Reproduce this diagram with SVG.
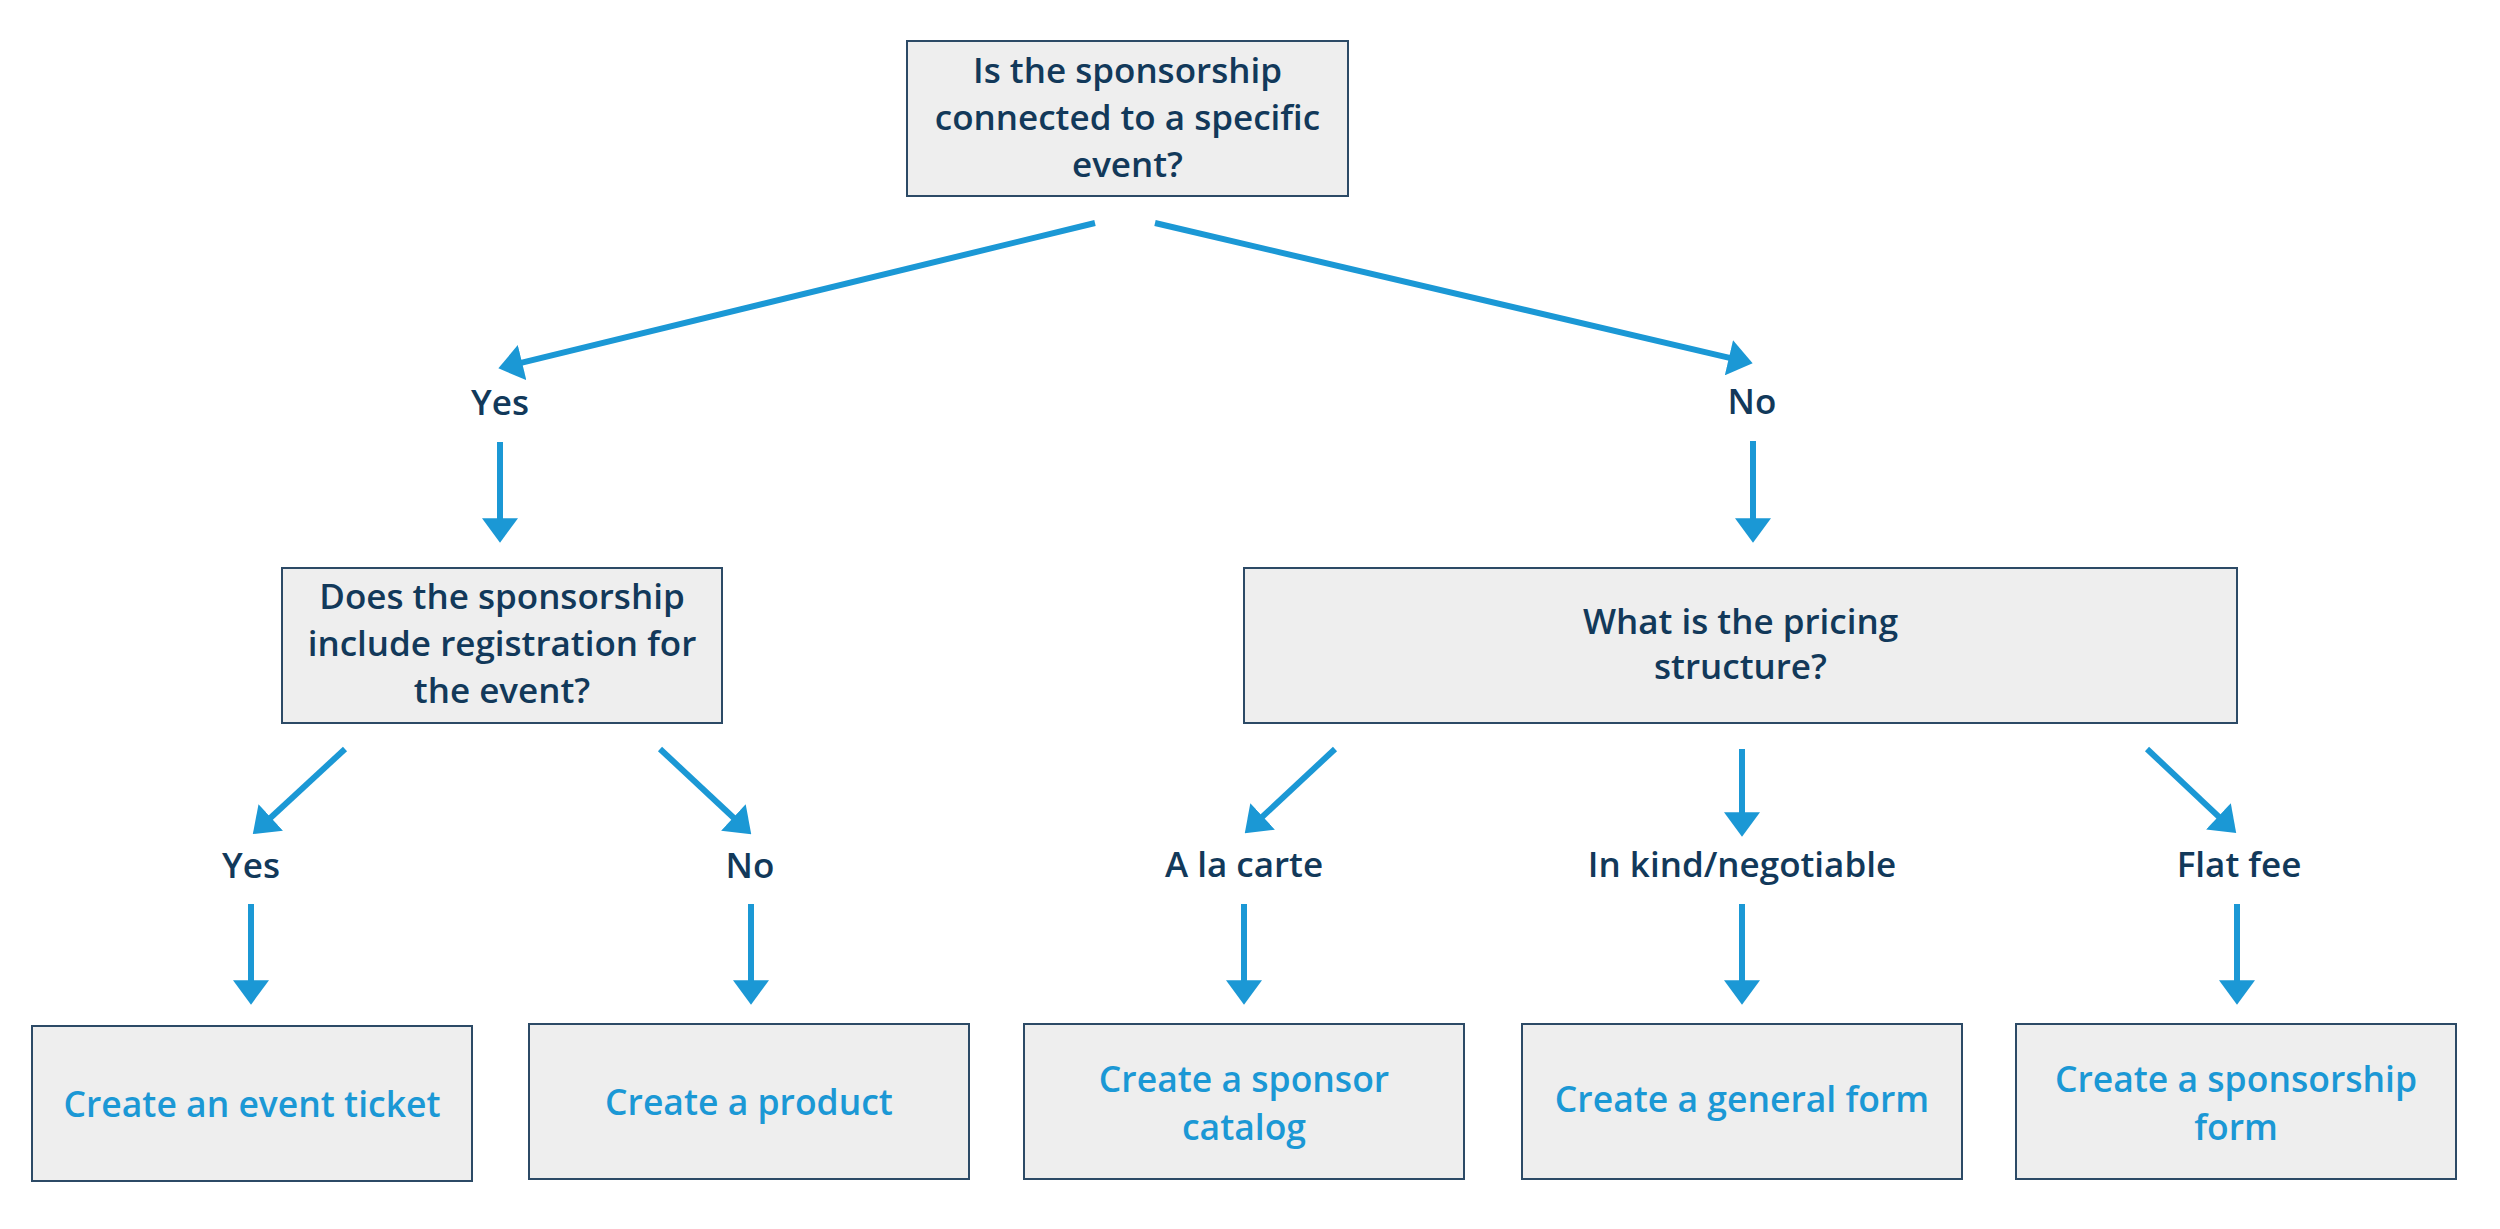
<svg xmlns="http://www.w3.org/2000/svg" width="2500" height="1229" viewBox="0 0 2500 1229">
<style>
.box{fill:#eeeeee;stroke:#2c4a66;stroke-width:2}
.q{font-family:"Open Sans","Liberation Sans",sans-serif;font-weight:600;font-size:35px;fill:#12395a;text-anchor:middle}
.a{font-family:"Open Sans","Liberation Sans",sans-serif;font-weight:600;font-size:35.5px;fill:#1b98d5;text-anchor:middle}
.c{stroke:#1b98d5;stroke-width:6;fill:none;marker-end:url(#ah)}
</style>
<defs>
<marker id="ah" markerUnits="userSpaceOnUse" markerWidth="25" markerHeight="36" viewBox="0 0 23 34" refX="12" refY="17" orient="auto">
<path d="M0,0 L23,17 L0,34 Z" fill="#1b98d5"/>
</marker>
</defs>
<rect width="2500" height="1229" fill="#ffffff"/>
<g id="connectors">
<line class="c" x1="1095" y1="223" x2="509.7" y2="365.6"/>
<line class="c" x1="1155" y1="223" x2="1741.3" y2="360.7"/>
<line class="c" x1="500" y1="442" x2="500" y2="531"/>
<line class="c" x1="1753" y1="441" x2="1753" y2="531"/>
<line class="c" x1="345" y1="749" x2="261.4" y2="826.2"/>
<line class="c" x1="660" y1="749" x2="742.7" y2="826.2"/>
<line class="c" x1="1335" y1="749" x2="1253.3" y2="825.2"/>
<line class="c" x1="1742" y1="749" x2="1742" y2="825"/>
<line class="c" x1="2147" y1="749" x2="2227.7" y2="825.1"/>
<line class="c" x1="251" y1="904" x2="251" y2="993"/>
<line class="c" x1="751" y1="904" x2="751" y2="993"/>
<line class="c" x1="1244" y1="904" x2="1244" y2="993"/>
<line class="c" x1="1742" y1="904" x2="1742" y2="993"/>
<line class="c" x1="2237" y1="904" x2="2237" y2="993"/>
</g>
<g id="labels">
<text class="q" x="500" y="415">Yes</text>
<text class="q" x="1752" y="414">No</text>
<text class="q" x="251" y="878">Yes</text>
<text class="q" x="750" y="878">No</text>
<text class="q" x="1244" y="877">A la carte</text>
<text class="q" x="1742" y="877">In kind/negotiable</text>
<text class="q" x="2239" y="877">Flat fee</text>
</g>
<g id="q1">
<rect class="box" x="907" y="41" width="441" height="155"/>
<text class="q" x="1127.5" y="83">Is the sponsorship</text>
<text class="q" x="1127.5" y="130">connected to a specific</text>
<text class="q" x="1127.5" y="177">event?</text>
</g>
<g id="q2">
<rect class="box" x="282" y="568" width="440" height="155"/>
<text class="q" x="502" y="609">Does the sponsorship</text>
<text class="q" x="502" y="656">include registration for</text>
<text class="q" x="502" y="703">the event?</text>
</g>
<g id="q3">
<rect class="box" x="1244" y="568" width="993" height="155"/>
<text class="q" x="1740.5" y="634">What is the pricing</text>
<text class="q" x="1740.5" y="679">structure?</text>
</g>
<g id="r1">
<rect class="box" x="32" y="1026" width="440" height="155"/>
<text class="a" x="252" y="1117">Create an event ticket</text>
</g>
<g id="r2">
<rect class="box" x="529" y="1024" width="440" height="155"/>
<text class="a" x="749" y="1115">Create a product</text>
</g>
<g id="r3">
<rect class="box" x="1024" y="1024" width="440" height="155"/>
<text class="a" x="1244" y="1092">Create a sponsor</text>
<text class="a" x="1244" y="1140">catalog</text>
</g>
<g id="r4">
<rect class="box" x="1522" y="1024" width="440" height="155"/>
<text class="a" x="1742" y="1112">Create a general form</text>
</g>
<g id="r5">
<rect class="box" x="2016" y="1024" width="440" height="155"/>
<text class="a" x="2236" y="1092">Create a sponsorship</text>
<text class="a" x="2236" y="1140">form</text>
</g>
</svg>
